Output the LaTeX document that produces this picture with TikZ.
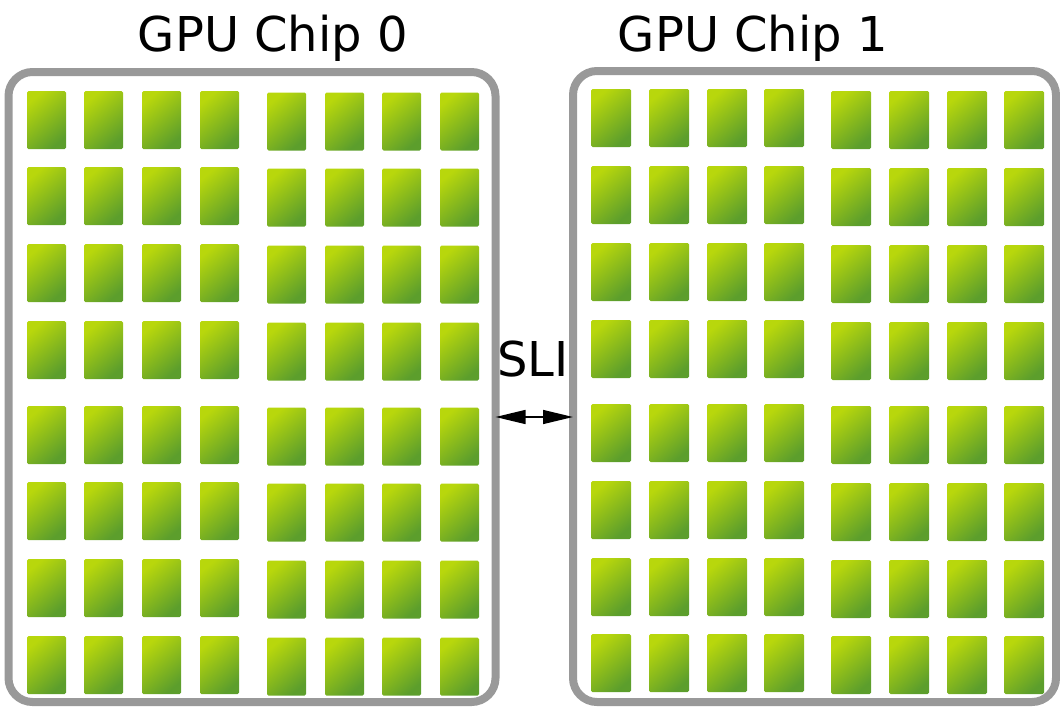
\documentclass[tikz,border=0pt]{standalone}
\usepackage{fontspec}
\setmainfont{DejaVu Sans}
\usetikzlibrary{arrows.meta,calc}
\definecolor{tilelight}{HTML}{B8D70C}
\definecolor{tiledark}{HTML}{5C9E2C}
\definecolor{chipgray}{HTML}{999999}
\tikzset{
  tile/.style={rectangle, inner sep=0pt, outer sep=0pt, minimum height=58pt,
    rounded corners=1.5pt, top color=tilelight, bottom color=tiledark, shading angle=40},
  chipbox/.style={rectangle, draw=chipgray, line width=8pt, rounded corners=24pt, inner sep=0pt, outer sep=0pt},
  title/.style={font=\fontsize{48}{56}\selectfont, anchor=base, inner sep=0pt},
  sliarrow/.style={{Triangle[length=30pt,width=14pt]}-{Triangle[length=30pt,width=14pt]}, line width=1.4pt}
}
\begin{document}
\begin{tikzpicture}[x=1pt,y=-1pt]
\useasboundingbox (0,0) rectangle (1060,707);
% chips
\node[chipbox, minimum width=487pt, minimum height=630pt] (chip0) at (252,387) {};
\node[chipbox, minimum width=483pt, minimum height=631pt] (chip1) at (814.5,386.5) {};
% tiles chip 0
\foreach \x [count=\i] in {27,84,142,200,267,325,382,440}{
  \foreach \y [count=\j] in {91,167,244,321,406,482,559,636}{
    \pgfmathsetmacro{\dy}{\i>4 ? 1.5 : 0}
    \node[tile, minimum width=39pt] (a-\i-\j) at ({\x+19.5},{\y+29+\dy}) {};
  }
}
% tiles chip 1
\foreach \x [count=\i] in {591,649,707,764,831,889,947,1004}{
  \foreach \y [count=\j] in {89,166,243,320,404,481,558,634}{
    \pgfmathsetmacro{\dy}{\i>4 ? 2 : 0}
    \node[tile, minimum width=40pt] (b-\i-\j) at ({\x+20},{\y+29+\dy}) {};
  }
}
% titles
\node[title] (t0) at (273,51) {GPU Chip 0};
\node[title] (t1) at (753,51) {GPU Chip 1};
\node[title] (sli) at (533,376) {SLI};
% arrow
\coordinate (ay) at (533,417);
\draw[sliarrow] (chip0.east |- ay) -- (chip1.west |- ay);
\end{tikzpicture}
\end{document}
